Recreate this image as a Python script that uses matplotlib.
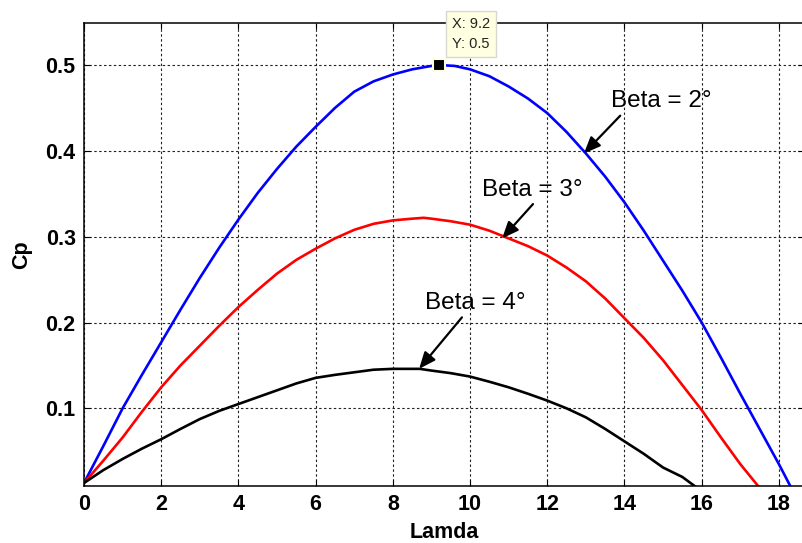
#!/usr/bin/env python3

from matplotlib.pyplot import close, figure, rcParams, savefig

LAMDA_B2 = [0, 0.5, 1, 1.5, 2, 2.5, 3, 3.5, 4, 4.5, 5, 5.5, 6, 6.5, 7, 7.5,
            8, 8.5, 9, 9.2, 9.6, 10, 10.5, 11, 11.5, 12, 12.5, 13, 13.5, 14,
            14.5, 15, 15.5, 16, 16.5, 17, 17.5, 18, 18.3]
CP_B2 = [0.013, 0.056, 0.100, 0.139, 0.177, 0.215, 0.252, 0.287, 0.320,
         0.351, 0.379, 0.405, 0.428, 0.450, 0.469, 0.481, 0.489, 0.495,
         0.499, 0.500, 0.499, 0.495, 0.487, 0.475, 0.461, 0.444, 0.422,
         0.397, 0.370, 0.340, 0.307, 0.272, 0.237, 0.200, 0.159, 0.117,
         0.076, 0.035, 0.009]
LAMDA_B3 = [0, 0.5, 1, 1.5, 2, 2.5, 3, 3.5, 4, 4.5, 5, 5.5, 6, 6.5, 7, 7.5,
            8, 8.5, 8.8, 9, 9.5, 10, 10.5, 11, 11.5, 12, 12.5, 13, 13.5, 14,
            14.5, 15, 15.5, 16, 16.5, 17, 17.47]
CP_B3 = [0.013, 0.039, 0.066, 0.096, 0.1245, 0.150, 0.173, 0.196, 0.218,
         0.238, 0.257, 0.273, 0.286, 0.298, 0.308, 0.315, 0.319, 0.321,
         0.322, 0.321, 0.318, 0.314, 0.307, 0.298, 0.289, 0.278, 0.264,
         0.248, 0.228, 0.205, 0.182, 0.156, 0.127, 0.098, 0.066, 0.035,
         0.009]
LAMDA_B4 = [0, 0.5, 1, 1.5, 2, 2.5, 3, 3.5, 4, 4.5, 5, 5.5, 6, 6.5, 7, 7.5,
            8, 8.7, 9, 9.5, 10, 10.5, 11, 11.5, 12, 12.5, 13, 13.5, 14, 14.5,
            15, 15.5, 15.83]
CP_B4 = [0.013, 0.028, 0.041, 0.053, 0.064, 0.076, 0.0875, 0.097, 0.105,
         0.113, 0.121, 0.129, 0.1355, 0.139, 0.142, 0.145, 0.146, 0.146,
         0.144, 0.141, 0.137, 0.131, 0.1245, 0.117, 0.109, 0.100, 0.0895,
         0.076, 0.0615, 0.047, 0.031, 0.020, 0.009]
X_TICKS = [0, 2, 4, 6, 8, 10, 12, 14, 16, 18]
Y_TICKS = [0.1, 0.2, 0.3, 0.4, 0.5]
CURSOR = (9.2, 0.5)
# label: (arrow tip, arrow tail, text centre/bottom)
LABELS = {
    "Beta = 2°": ((12.95, 0.397), (13.89, 0.441), (14.95, 0.445)),
    "Beta = 3°": ((10.83, 0.298), (11.63, 0.338), (11.60, 0.342)),
    "Beta = 4°": ((8.68, 0.146), (9.79, 0.206), (10.13, 0.210)),
}


def main():
    rcParams["font.family"] = ["Liberation Sans", "DejaVu Sans"]
    fig = figure(figsize=(8.02, 5.43), dpi=100)
    ax = fig.add_axes([84 / 802, 57 / 543, 720 / 802, 463 / 543])
    kwargs = {"linewidth": 1.9, "solid_joinstyle": "round"}
    ax.plot(LAMDA_B2, CP_B2, color="#0000ff", **kwargs)
    ax.plot(LAMDA_B3, CP_B3, color="#ff0000", **kwargs)
    ax.plot(LAMDA_B4, CP_B4, color="#000000", **kwargs)
    ax.set_xlim(0, 18.65)
    ax.set_ylim(0.0095, 0.549)
    ax.set_xticks(X_TICKS)
    ax.set_yticks(Y_TICKS)
    ax.set_xticklabels([str(t) for t in X_TICKS])
    ax.set_yticklabels([str(t) for t in Y_TICKS])
    ax.grid(True, color="#222222", linestyle=(0, (2.2, 2.2)),
            linewidth=0.8)
    ax.tick_params(direction="in", length=4, width=0.8, top=True,
                   right=True, labelsize=15.5, pad=6)
    for label in ax.get_xticklabels() + ax.get_yticklabels():
        label.set_fontweight("bold")
    for spine in ax.spines.values():
        spine.set_linewidth(1.1)
    ax.set_xlabel("Lamda", fontsize=15.5, fontweight="bold", labelpad=5)
    ax.set_ylabel("Cp", fontsize=15.5, fontweight="bold", labelpad=10)

    # data cursor
    ax.plot(*CURSOR, marker="s", markersize=9, color="k",
            markeredgecolor="#ffffe1", markeredgewidth=1.5, zorder=5)
    ax.annotate(
        "X: 9.2\nY: 0.5",
        CURSOR,
        xytext=(9, 10),
        textcoords="offset points",
        ha="left",
        va="bottom",
        fontsize=10.5,
        color="#222222",
        linespacing=1.55,
        bbox={"boxstyle": "square,pad=0.4", "facecolor": "#ffffe1",
              "edgecolor": "#d8d8d0", "linewidth": 1.0},
        annotation_clip=False,
        zorder=6,
    )

    for (text, (tip, tail, spot)) in LABELS.items():
        ax.annotate(
            "",
            tip,
            xytext=tail,
            arrowprops={"arrowstyle": "-|>,head_length=1.0,head_width=0.42",
                        "color": "k", "linewidth": 1.6,
                        "shrinkA": 0, "shrinkB": 0},
        )
        ax.text(*spot, text, ha="center", va="bottom", fontsize=17.5)
    savefig("out.png", dpi=100)
    close()


if __name__ == "__main__":
    main()
